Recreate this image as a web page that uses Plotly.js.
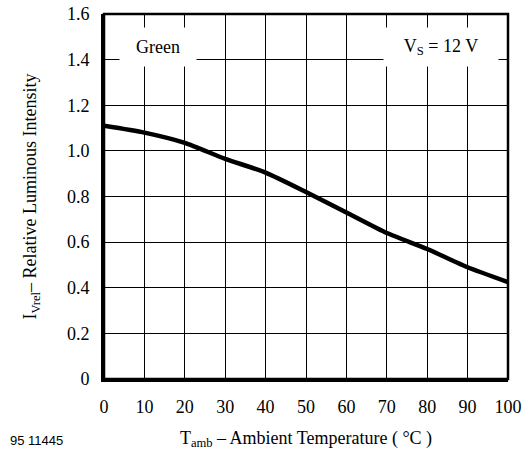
<!DOCTYPE html>
<html>
<head>
<meta charset="utf-8">
<script src="https://cdn.plot.ly/plotly-3.0.1.min.js"></script>
<style>html,body{margin:0;padding:0;background:#fff}#chart{width:531px;height:453px}</style>
</head>
<body>
<div id="chart"></div>
<script>
var temperature = [0, 10, 20, 30, 40, 50, 60, 70, 80, 90, 100];
var relIntensity = [1.11, 1.08, 1.035, 0.965, 0.905, 0.82, 0.73, 0.64, 0.57, 0.49, 0.425];
var xTicks = [0, 10, 20, 30, 40, 50, 60, 70, 80, 90, 100];
var yTicks = [0, 0.2, 0.4, 0.6, 0.8, 1.0, 1.2, 1.4, 1.6];
var yTickText = ["0", "0.2", "0.4", "0.6", "0.8", "1.0", "1.2", "1.4", "1.6"];

var serif = "Liberation Serif";
var fs = 18;

var trace = {
  x: temperature,
  y: relIntensity,
  type: "scatter",
  mode: "lines",
  line: {color: "#000", width: 4.5, shape: "spline", smoothing: 0.6},
  hoverinfo: "skip"
};

var layout = {
  width: 531, height: 453,
  margin: {l: 104, r: 23, t: 14, b: 74},
  paper_bgcolor: "#fff", plot_bgcolor: "#fff",
  showlegend: false,
  font: {family: serif, size: fs, color: "#000"},
  xaxis: {
    range: [0, 100], tickmode: "array", tickvals: xTicks,
    showgrid: true, gridcolor: "#000", gridwidth: 1,
    zeroline: false, showline: true, linecolor: "#000", linewidth: 3,
    ticks: "", ticklabelstandoff: 9,
    tickfont: {family: serif, size: fs, color: "#000"},
    title: {text: "T<sub>amb</sub> – Ambient Temperature ( °C )", font: {family: serif, size: fs, color: "#000"}, standoff: 16},
    automargin: false, fixedrange: true
  },
  yaxis: {
    range: [0, 1.6], tickmode: "array", tickvals: yTicks, ticktext: yTickText,
    showgrid: true, gridcolor: "#000", gridwidth: 1,
    zeroline: false, showline: true, linecolor: "#000", linewidth: 3,
    ticks: "", ticklabelstandoff: 8,
    tickfont: {family: serif, size: fs, color: "#000"},
    title: {text: "I<sub>Vrel</sub>– Relative Luminous Intensity", font: {family: serif, size: fs, color: "#000"}, standoff: 26},
    automargin: false, fixedrange: true
  },
  shapes: [
    {type: "rect", xref: "paper", yref: "paper", x0: 0, x1: 1, y0: 0, y1: 1,
     line: {color: "#000", width: 2.5}, fillcolor: "rgba(0,0,0,0)", layer: "above"}
  ],
  annotations: [
    {x: 13.4, y: 1.455, xref: "x", yref: "y", text: "Green", showarrow: false,
     bgcolor: "#fff", width: 72, height: 34, borderpad: 2,
     font: {family: serif, size: fs, color: "#000"}},
    {x: 83.3, y: 1.455, xref: "x", yref: "y", text: "V<sub>S</sub> = 12 V", showarrow: false,
     bgcolor: "#fff", width: 110, height: 34, borderpad: 2,
     font: {family: serif, size: fs, color: "#000"}},
    {xref: "paper", yref: "paper", xanchor: "left", yanchor: "middle",
     x: (8 - 104) / (531 - 104 - 23), y: -(440 - 379) / (379 - 14),
     text: "95 11445", showarrow: false,
     font: {family: "Liberation Sans", size: 13, color: "#000"}}
  ]
};

Plotly.newPlot("chart", [trace], layout, {displayModeBar: false, staticPlot: true});
</script>
</body>
</html>
